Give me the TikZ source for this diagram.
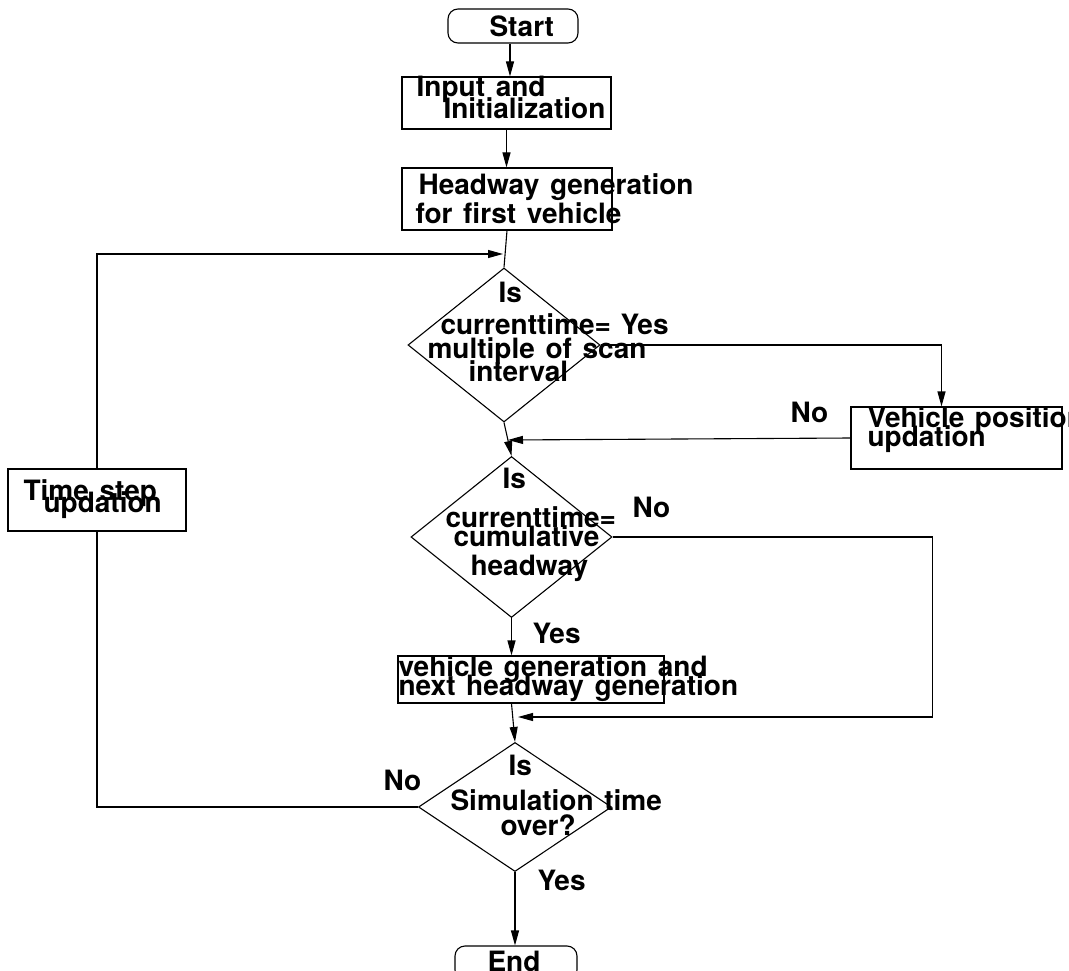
\documentclass[tikz,border=0pt]{standalone}
\usepackage{fontspec}
\setmainfont{TeX Gyre Heros}
\usepackage{tikz}
\usetikzlibrary{shapes.geometric,arrows.meta}

\newcommand{\flowfont}{\fontsize{28}{28}\selectfont\bfseries\spaceskip=0.38em\relax}

\tikzset{
  box/.style={draw, rectangle, inner sep=0pt},
  rbox/.style={draw, rectangle, rounded corners=10pt, inner sep=0pt},
  decision/.style={draw, diamond, inner sep=0pt},
  txt/.style={anchor=base west, inner sep=0pt, font=\flowfont},
  arr/.style={-{Triangle[length=15pt,width=8pt]}},
}

\begin{document}
\begin{tikzpicture}[x=1pt, y=-1pt, line width=1.1pt]
\useasboundingbox (0,0) rectangle (1069,971);

% shapes
\node[rbox, minimum width=130, minimum height=34] (start) at (513,26) {};
\node[box, minimum width=209, minimum height=52] (input) at (506.5,103) {};
\node[box, minimum width=210, minimum height=62] (headway) at (507,199) {};
\node[decision, minimum width=192, minimum height=154] (scan) at (504,345) {};
\node[box, minimum width=211, minimum height=62] (vehpos) at (956.5,438) {};
\node[decision, minimum width=201, minimum height=161] (cumhw) at (511.5,537) {};
\node[box, minimum width=266, minimum height=47] (vehgen) at (531,679.5) {};
\node[decision, minimum width=193, minimum height=129] (simover) at (515,807) {};
\node[rbox, minimum width=122, minimum height=34] (end) at (516,963) {};
\node[box, minimum width=178, minimum height=62] (tstep) at (97,500) {};

% free ends of connectors
\coordinate (join1) at (503,254);
\coordinate (join2) at (508,440);
\coordinate (join3) at (518,717);

% connectors
\draw[arr] ([xshift=-3pt]start.south) -- ([xshift=-3pt]start.south |- input.north);
\draw[arr] (input.south) -- (input.south |- headway.north);
\draw (headway.south) -- (scan.north);
\draw[arr] (tstep.north) |- (join1);
\draw[arr] (scan.east) -| ([xshift=-15pt]vehpos.north);
\draw[arr] (vehpos.west) -- (join2);
\draw[arr] (scan.south) -- (cumhw.north);
\draw[arr] (cumhw.south) -- (cumhw.south |- vehgen.north);
\draw[arr] (cumhw.east) -- ++(320,0) |- (join3);
\draw[arr] (cumhw.south |- vehgen.south) -- (simover.north);
\draw[arr] (simover.south) -- (simover.south |- end.north);
\draw (simover.west) -| (tstep.south);

% texts
\node[txt] (tstart) at (489,37) {Start};
\node[txt] (tin1) at (416,97) {Input and};
\node[txt] (tin2) at (443,119) {Initialization};
\node[txt] (thw1) at (418,195) {Headway generation};
\node[txt] (thw2) at (415,223) {for first vehicle};
\node[txt] (tsc1) at (498,302) {Is};
\node[txt] (tsc2) at (440,334) {currenttime=};
\node[txt] (tsc3) at (427,358) {multiple of scan};
\node[txt] (tsc4) at (468,381) {interval};
\node[txt] (tyes1) at (620,334) {Yes};
\node[txt] (tno1) at (790,422) {No};
\node[txt] (tvp1) at (867,427) {Vehicle position};
\node[txt] (tvp2) at (867,446) {updation};
\node[txt] (tts1) at (23,500) {Time step};
\node[txt] (tts2) at (43,512) {updation};
\node[txt] (tch1) at (502,488) {Is};
\node[txt] (tch2) at (445,527) {currenttime=};
\node[txt] (tch3) at (453,546) {cumulative};
\node[txt] (tch4) at (470,575) {headway};
\node[txt] (tno2) at (632,517) {No};
\node[txt] (tyes2) at (532,643) {Yes};
\node[txt] (tvg1) at (398,676) {vehicle generation and};
\node[txt] (tvg2) at (398,695) {next headway generation};
\node[txt] (tso1) at (508,775) {Is};
\node[txt] (tso2) at (450,810) {Simulation time};
\node[txt] (tso3) at (500,835) {over?};
\node[txt] (tno3) at (383,790) {No};
\node[txt] (tyes3) at (537,890) {Yes};
\node[txt] (tend) at (487,971) {End};

\end{tikzpicture}
\end{document}
